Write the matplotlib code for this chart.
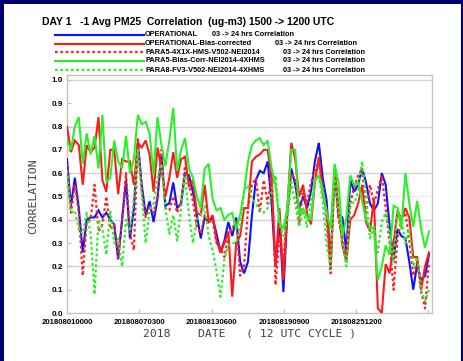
import matplotlib
matplotlib.use("Agg")
import matplotlib.pyplot as plt
from matplotlib.lines import Line2D
import numpy as np
import pandas as pd

# ---------------- data ----------------
start_time = "2018-08-01 00:00"
step_hours = 8
tick_step_hours = 147

operational = [
    .66, .46, .58, .45, .26, .40, .41, .41, .44, .41, .43, .40, .38, .23, .40, .57,
    .32, .45, .73, .55, .42, .48, .39, .49, .68, .46, .47, .56, .45, .47, .60,
    .59, .52, .42, .32, .41, .39, .41, .34, .26, .31, .39, .33, .41, .22, .17, .22,
    .42, .57, .61, .60, .65, .47, .20, .40, .09, .43, .62, .55, .45, .50,
    .45, .52, .65, .73, .58, .48, .20, .62, .42, .41, .26, .57, .52, .55, .62, .56,
    .47, .44, .47, .60, .55, .37, .23, .36, .33, .32, .22, .10, .21, .14, .16, .25]

operational_bc = [
    .80, .69, .74, .72, .55, .72, .69, .71, .84, .57, .52, .70, .70, .51, .66, .65,
    .65, .55, .73, .71, .74, .68, .52, .71, .62, .50, .58, .69, .58, .66, .67,
    .54, .57, .43, .42, .55, .39, .42, .31, .26, .30, .35, .07, .30, .33, .45, .45,
    .65, .67, .68, .70, .70, .58, .20, .45, .14, .45, .73, .66, .50, .55,
    .43, .38, .56, .67, .51, .44, .21, .62, .45, .29, .22, .40, .42, .47, .55, .39,
    .35, .49, .02, .00, .21, .17, .30, .44, .40, .45, .41, .24, .24, .10, .20, .26]

para5_4x1x = [
    .64, .43, .55, .43, .16, .39, .40, .55, .35, .38, .50, .36, .38, .24, .40, .60,
    .34, .27, .75, .52, .41, .46, .43, .50, .70, .45, .44, .50, .43, .48, .63,
    .55, .48, .37, .34, .42, .39, .40, .30, .28, .24, .33, .36, .40, .16, .20, .45,
    .55, .58, .43, .57, .47, .60, .12, .33, .22, .45, .60, .57, .38, .53,
    .47, .56, .61, .65, .55, .40, .17, .60, .40, .32, .24, .47, .54, .59, .62, .43,
    .55, .47, .53, .59, .45, .30, .10, .32, .40, .43, .31, .16, .22, .09, .02, .22]

para5_bias_corr = [
    .74, .70, .80, .84, .64, .77, .68, .76, .62, .85, .56, .58, .74, .65, .62, .76,
    .60, .66, .85, .81, .82, .77, .59, .84, .72, .63, .74, .88, .61, .70, .75,
    .62, .58, .50, .45, .62, .64, .49, .44, .45, .40, .42, .43, .36, .42, .52, .65,
    .72, .74, .75, .72, .74, .62, .55, .39, .36, .45, .70, .70, .42, .45,
    .41, .40, .57, .59, .53, .43, .36, .64, .56, .33, .41, .59, .55, .56, .48, .40,
    .37, .36, .14, .20, .29, .25, .46, .45, .36, .60, .47, .37, .48, .36, .28, .35]

para8_fv3 = [
    .61, .43, .44, .36, .34, .43, .34, .08, .40, .36, .25, .44, .30, .32, .20, .40,
    .35, .49, .70, .51, .30, .44, .47, .58, .64, .45, .34, .42, .31, .45, .59,
    .42, .30, .40, .42, .46, .33, .27, .18, .07, .23, .29, .30, .30, .37, .52, .55,
    .49, .47, .44, .43, .45, .52, .59, .38, .33, .40, .56, .47, .37, .44,
    .37, .48, .57, .59, .48, .29, .20, .60, .45, .30, .20, .48, .47, .52, .65, .50,
    .32, .37, .26, .39, .43, .34, .22, .44, .40, .30, .36, .20, .24, .10, .05, .10]

series_labels = [
    "OPERATIONAL",
    "OPERATIONAL-Bias-corrected",
    "PARA5-4X1X-HMS-V502-NEI2014",
    "PARA5-Bias-Corr-NEI2014-4XHMS",
    "PARA8-FV3-V502-NEI2014-4XHMS",
]
legend_suffix = "03 -> 24 hrs Correlation"
y_ticks = [0.0, 0.1, 0.2, 0.3, 0.4, 0.5, 0.6, 0.7, 0.8, 0.9, 1.0]
grid_solid = [0.2, 0.4, 0.6, 0.8, 1.0]
grid_dotted = [0.5]

# ---------------- figure ----------------
W, H = 463, 361
fig = plt.figure(figsize=(W / 100, H / 100), dpi=100)
fig.patch.set_facecolor("#00006e")

# white inner panel
panel = plt.Rectangle((4 / W, 0 / H), (461 - 4) / W, (H - 4) / H,
                      transform=fig.transFigure, facecolor="white",
                      edgecolor="none", zorder=0)
fig.add_artist(panel)

ax_l, ax_r, ax_t, ax_b = 67, 432, 75, 313
ax = fig.add_axes([ax_l / W, (H - ax_b) / H, (ax_r - ax_l) / W, (ax_b - ax_t) / H])
ax.set_facecolor("white")

all_series = [operational, operational_bc, para5_4x1x, para5_bias_corr, para8_fv3]
n = len(operational)
hours = np.arange(n) * step_hours

styles = [
    dict(color="#1010ff", ls="-", lw=1.5),
    dict(color="#ff1a1a", ls="-", lw=1.5),
    dict(color="#ff2020", ls=(0, (1.2, 1.2)), lw=1.6),
    dict(color="#2af02a", ls="-", lw=1.5),
    dict(color="#2af02a", ls=(0, (1.2, 1.2)), lw=1.6),
]
for k in range(5):
    ax.plot(hours, all_series[k], color=styles[k]["color"], ls=styles[k]["ls"],
            lw=styles[k]["lw"], zorder=3 + k, solid_joinstyle="miter")

for g in grid_solid:
    ax.axhline(g, color="#d4d4d4", lw=1.0, zorder=1)
for g in grid_dotted:
    ax.axhline(g, color="#dcdcdc", lw=1.0, ls=(0, (1, 1)), zorder=1)

x_max = (ax_r - ax_l) / 72.3 * tick_step_hours
ax.set_xlim(0, x_max)
ax.set_ylim(0, 1.021)

t0 = pd.Timestamp(start_time)
xt = np.arange(0, x_max, tick_step_hours)
xlabels = [(t0 + pd.Timedelta(hours=float(h))).strftime("%Y%m%d%H%M") for h in xt]
xlabels[-1] = ""
ax.set_xticks(xt)
ax.set_xticklabels(xlabels, fontsize=5.6, fontweight="bold", family="Liberation Sans")
ax.set_yticks(y_ticks)
ax.set_yticklabels([f"{v:.1f}" for v in y_ticks], fontsize=5.8, fontweight="bold",
                   family="Liberation Sans")
ax.tick_params(axis="both", direction="in", length=3, color="#c0c0c0", width=0.8, pad=3)
ax.tick_params(axis="x", pad=4)
for s in ax.spines.values():
    s.set_color("#c4c4c4")
    s.set_linewidth(1.0)

# y label and x label
fig.text(33 / W, 1 - 196 / H, "CORRELATION", rotation=90, ha="center", va="center",
         family="DejaVu Sans Mono", fontsize=8.2, color="#404040", fontweight="light")
fig.text(143 / W, 1 - 333 / H, "2018    DATE   ( 12 UTC CYCLE )", ha="left", va="center",
         family="DejaVu Sans Mono", fontsize=8.2, color="#404040")

# title
fig.text(42 / W, 1 - 22 / H, "DAY 1   -1 Avg PM25  Correlation  (ug-m3) 1500 -> 1200 UTC",
         ha="left", va="center", family="Liberation Sans", fontweight="bold",
         fontsize=7.5, color="black")

# custom legend
row_y = [35, 43.5, 52, 61, 70]
suffix_x = [212, 275, 283, 283, 283]
for k in range(5):
    yy = 1 - row_y[k] / H
    fig.add_artist(Line2D([55 / W, 144 / W], [yy, yy], transform=fig.transFigure,
                          color=styles[k]["color"], ls=styles[k]["ls"], lw=styles[k]["lw"]))
    fig.text(145 / W, yy, series_labels[k], ha="left", va="center",
             family="Liberation Sans", fontweight="bold", fontsize=5.3)
    fig.text(suffix_x[k] / W, yy, legend_suffix, ha="left", va="center",
             family="Liberation Sans", fontweight="bold", fontsize=5.3)

fig.savefig("out.png", dpi=100, facecolor=fig.get_facecolor())
